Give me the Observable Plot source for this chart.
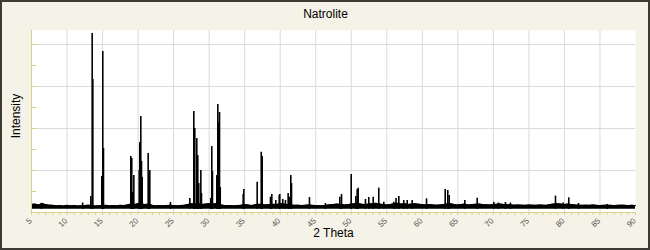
<!DOCTYPE html>
<html><head><meta charset="utf-8">
<script src="https://cdn.jsdelivr.net/npm/d3@7"></script>
<script src="https://cdn.jsdelivr.net/npm/@observablehq/plot@0.6"></script>
<style>
html,body{margin:0;padding:0;background:#f5f3e7;}
#chart svg{display:block;outline:2px solid #3c3b33;outline-offset:-2px;}
</style></head><body><div id="chart"></div>
<script>
const title = "Natrolite";
const xLabel = "2 Theta";
const yLabel = "Intensity";
const xTickLabels = [5,10,15,20,25,30,35,40,45,50,55,60,65,70,75,80,85,90];
const xMinorTicks = d3.range(5, 91, 1);
const xGridTicks = [10,15,20,25,30,35,40,45,50,55,60,65,70,75,80,85];
const yTicks = [0,1000,2000,3000,4000,5000,6000,7000,8000];
const yGridTicks = [2000,4000,6000,8000];

// Reflection peaks (2θ, intensity)
const peakTheta = [6.4,12.2,13.35,13.54,13.63,14.89,15.03,15.13,18.97,19.11,19.25,19.40,20.16,20.24,20.38,20.48,20.58,21.42,21.51,21.65,24.56,27.28,27.84,27.98,28.26,28.40,28.54,28.83,28.92,30.23,30.37,30.47,31.08,31.22,31.32,31.46,31.56,34.79,34.88,36.76,37.33,37.47,38.63,38.82,39.38,39.86,39.94,40.36,40.74,41.12,41.26,41.49,41.59,44.12,46.37,48.39,48.63,49.99,50.64,50.83,50.97,52.00,52.47,53.09,53.87,54.58,55.99,56.30,56.69,57.39,57.87,58.58,60.59,63.22,63.58,63.78,65.98,67.72,70.06,70.70,71.70,72.40,78.74,79.82,80.61,81.98,86.02];
const peakIntensity = [440,450,760,8520,6330,1710,7670,3050,2670,2570,950,1760,2000,3330,4570,2430,1670,2810,1430,2000,480,670,4810,4000,3520,2710,1380,2000,900,670,3140,1950,1760,5140,4290,4760,1190,860,1100,1440,2870,2670,730,860,570,810,860,620,570,900,730,1760,1380,710,430,730,860,1810,760,1080,1160,620,710,730,1160,490,490,670,760,570,570,570,650,1100,1050,810,570,680,490,450,480,450,780,450,700,430,380];

// Background noise band: top of the band every 0.5° from 5 to 90, and its floor
const noiseStep = 0.5;
const noiseTop = [380,400,360,420,380,350,340,
 320,330,310,340,320,330,310,320,330,350,
 330,310,320,330,340,
 320,330,320,340,330,360,
 400,380,420,400,380,400,340,
 320,330,320,330,340,330,320,330,340,380,
 420,400,420,380,400,420,400,420,380,340,
 320,330,320,330,340,380,360,330,370,
 390,380,360,380,390,380,420,400,380,360,340,350,330,340,360,340,330,
 330,320,340,370,380,400,380,360,370,400,
 420,430,390,380,400,420,440,400,380,360,380,420,440,400,420,380,400,420,390,380,360,380,360,350,
 360,380,400,420,380,360,380,400,360,380,390,400,380,370,360,380,
 390,400,380,370,360,350,360,350,340,360,350,340,360,350,340,380,400,420,400,380,
 400,380,360,350,340,350,340,360,340,330,340,350,340,330,340,350,340,330,340,330];
const noiseFloor = 150;

const peaks = peakTheta.map((t, i) => ({theta: t, intensity: peakIntensity[i]}));
const band = noiseTop.map((v, i) => ({theta: 5 + i * noiseStep, top: v}));

const axisYellow = "#d9d08a";
const gridGray = "#dadada";

const chart = Plot.plot({
  width: 650, height: 250,
  marginLeft: 31, marginRight: 15, marginTop: 30, marginBottom: 38,
  style: {background: "#f5f3e7", fontFamily: "'Liberation Sans', Arial, sans-serif", color: "black"},
  x: {domain: [5, 90]},
  y: {domain: [0, 8667]},
  marks: [
    Plot.frame({fill: "white", stroke: "none"}),
    Plot.gridX({ticks: xGridTicks, stroke: gridGray, strokeOpacity: 1}),
    Plot.gridY({ticks: yGridTicks, stroke: gridGray, strokeOpacity: 1}),
    Plot.areaY(band, {x: "theta", y1: noiseFloor, y2: "top", fill: "black"}),
    Plot.lineY(band, {x: "theta", y: "top", stroke: "black", strokeWidth: 1}),
    Plot.ruleX(peaks, {x: "theta", y1: noiseFloor, y2: "intensity", stroke: "black", strokeWidth: 1.6}),
    Plot.axisX({ticks: xMinorTicks, tickSize: 3, tickFormat: () => "", stroke: axisYellow, label: null}),
    Plot.axisX({ticks: xTickLabels, tickSize: 0, tickPadding: 7, tickRotate: -45, dx: -1, fill: "#555", fontSize: 8, label: null}),
    Plot.axisY({ticks: yTicks, tickSize: 5, dx: 5, tickFormat: () => "", stroke: axisYellow, label: null}),
    Plot.ruleY([0], {stroke: axisYellow}),
    Plot.ruleX([5], {stroke: axisYellow}),
    Plot.text([title], {text: d => d, frameAnchor: "top", dx: -8, dy: -21, fontSize: 12, fill: "black"}),
    Plot.text([yLabel], {text: d => d, frameAnchor: "left", textAnchor: "middle", rotate: -90, dx: -15, dy: -5.5, fontSize: 12, fill: "black"}),
    Plot.text([xLabel], {text: d => d, frameAnchor: "bottom", dy: 24, fontSize: 12, fill: "black"})
  ]
});
document.getElementById("chart").appendChild(chart);
</script></body></html>
